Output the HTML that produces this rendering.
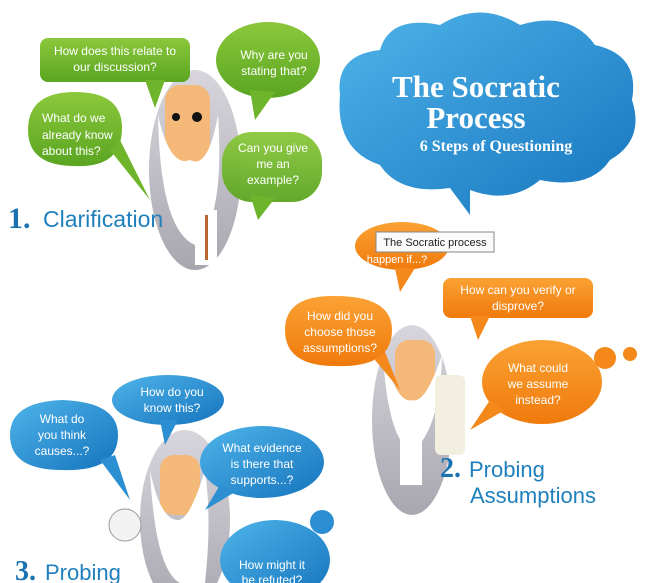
<!DOCTYPE html>
<html><head><style>
html,body{margin:0;padding:0;background:#fff;}
svg{display:block;}
text{font-family:"Liberation Sans",sans-serif;}
.t{font-family:"Liberation Serif",serif;}
</style></head><body>
<svg width="651" height="583" viewBox="0 0 651 583" xmlns="http://www.w3.org/2000/svg">
<defs>
<linearGradient id="g" x1="0" y1="0" x2="0" y2="1"><stop offset="0" stop-color="#8cc83c"/><stop offset="1" stop-color="#5aa521"/></linearGradient>
<linearGradient id="b" x1="0" y1="0" x2="1" y2="1"><stop offset="0" stop-color="#4fb4ea"/><stop offset="1" stop-color="#1574bd"/></linearGradient>
<linearGradient id="o" x1="0" y1="0" x2="0" y2="1"><stop offset="0" stop-color="#fba234"/><stop offset="1" stop-color="#f07a0c"/></linearGradient>
<linearGradient id="gr" x1="0" y1="0" x2="0" y2="1"><stop offset="0" stop-color="#d8d6dc"/><stop offset="1" stop-color="#a9a6b0"/></linearGradient>
</defs>
<ellipse cx="195" cy="170" rx="46" ry="100" fill="url(#gr)"/>
<ellipse cx="412" cy="420" rx="40" ry="95" fill="url(#gr)"/>
<ellipse cx="185" cy="520" rx="45" ry="90" fill="url(#gr)"/>
<rect x="165" y="85" width="45" height="85" rx="15" fill="#f4b978"/>
<path d="M158 115 Q160 230 195 245 Q225 220 218 115 Q208 170 190 160 Q170 168 158 115Z" fill="#fff"/>
<rect x="195" y="210" width="22" height="55" fill="#fff"/>
<rect x="205" y="215" width="3" height="45" fill="#b5672e"/>
<circle cx="176" cy="117" r="4" fill="#111"/><circle cx="197" cy="117" r="5" fill="#111"/>
<rect x="395" y="340" width="40" height="65" rx="14" fill="#f4b978"/>
<path d="M383 355 Q388 440 412 452 Q440 430 442 355 Q425 405 412 400 Q398 405 383 355Z" fill="#fff"/>
<rect x="400" y="420" width="22" height="65" fill="#fff"/>
<rect x="435" y="375" width="30" height="80" rx="6" fill="#f3efe0"/>
<rect x="160" y="455" width="40" height="60" rx="14" fill="#f4b978"/>
<path d="M150 470 Q155 570 180 583 L205 583 Q212 520 205 470 Q190 520 178 520 Q160 520 150 470Z" fill="#fff"/>
<circle cx="125" cy="525" r="16" fill="#f2f2f2" stroke="#999"/>
<rect x="40" y="38" width="150" height="44" rx="8" fill="url(#g)"/><path d="M145 80 L155 108 L165 80Z" fill="#6fb52b"/>
<text x="115" y="55" font-size="12" fill="#fff" text-anchor="middle">How does this relate to</text>
<text x="115" y="71" font-size="12" fill="#fff" text-anchor="middle">our discussion?</text>
<ellipse cx="268" cy="60" rx="52" ry="38" fill="url(#g)"/><path d="M250 90 L255 120 L275 92Z" fill="#6fb52b"/>
<text x="274" y="59" font-size="12" fill="#fff" text-anchor="middle">Why are you</text>
<text x="274" y="75" font-size="12" fill="#fff" text-anchor="middle">stating that?</text>
<path d="M28 130 Q28 92 75 92 Q122 92 122 128 Q122 168 75 166 Q28 166 28 130Z" fill="url(#g)"/><path d="M110 150 L150 200 L120 140Z" fill="#6fb52b"/>
<text x="42" y="122" font-size="12" fill="#fff">What do we</text>
<text x="42" y="139" font-size="12" fill="#fff">already know</text>
<text x="42" y="155" font-size="12" fill="#fff">about this?</text>
<rect x="222" y="132" width="100" height="70" rx="30" fill="url(#g)" opacity="0.95"/><path d="M250 195 L258 220 L275 198Z" fill="#6fb52b"/>
<text x="273" y="152" font-size="12" fill="#fff" text-anchor="middle">Can you give</text>
<text x="273" y="168" font-size="12" fill="#fff" text-anchor="middle">me an</text>
<text x="273" y="184" font-size="12" fill="#fff" text-anchor="middle">example?</text>
<text x="8" y="228" font-size="30" font-weight="bold" fill="#1b72b0" class="t">1.</text>
<text x="43" y="227" font-size="23" fill="#1f80bd">Clarification</text>
<path d="M340 95 Q335 55 380 50 Q390 15 440 25 Q480 0 520 25 Q570 10 595 45 Q640 55 632 100 Q645 140 610 160 Q590 190 540 180 Q510 205 470 190 L470 215 L450 188 Q400 195 380 165 Q335 150 340 95Z" fill="url(#b)"/>
<text x="476" y="97" font-size="31" font-weight="bold" fill="#fff" text-anchor="middle" class="t">The Socratic</text>
<text x="476" y="128" font-size="31" font-weight="bold" fill="#fff" text-anchor="middle" class="t">Process</text>
<text x="496" y="151" font-size="16" font-weight="bold" fill="#fff" text-anchor="middle" class="t">6 Steps of Questioning</text>
<ellipse cx="402" cy="246" rx="47" ry="24" fill="url(#o)"/><path d="M395 268 L400 292 L415 268Z" fill="#f4881a"/>
<text x="397" y="263" font-size="11" fill="#fff" text-anchor="middle">happen if...?</text>
<rect x="376" y="232" width="118" height="20" fill="#fafafa" stroke="#888"/>
<text x="435" y="246" font-size="11" fill="#222" text-anchor="middle">The Socratic process</text>
<rect x="443" y="278" width="150" height="40" rx="8" fill="url(#o)"/><path d="M470 316 L478 340 L490 316Z" fill="#f4881a"/>
<text x="518" y="294" font-size="12" fill="#fff" text-anchor="middle">How can you verify or</text>
<text x="518" y="310" font-size="12" fill="#fff" text-anchor="middle">disprove?</text>
<path d="M285 330 Q285 295 335 296 Q392 296 392 330 Q392 368 335 366 Q285 366 285 330Z" fill="url(#o)"/><path d="M375 360 L400 390 L385 352Z" fill="#f4881a"/>
<text x="340" y="320" font-size="12" fill="#fff" text-anchor="middle">How did you</text>
<text x="340" y="336" font-size="12" fill="#fff" text-anchor="middle">choose those</text>
<text x="340" y="352" font-size="12" fill="#fff" text-anchor="middle">assumptions?</text>
<ellipse cx="542" cy="382" rx="60" ry="42" fill="url(#o)"/><path d="M490 400 L470 430 L505 410Z" fill="#f4881a"/>
<circle cx="605" cy="358" r="11" fill="#f4881a"/><circle cx="630" cy="354" r="7" fill="#f4881a"/>
<text x="538" y="372" font-size="12" fill="#fff" text-anchor="middle">What could</text>
<text x="538" y="388" font-size="12" fill="#fff" text-anchor="middle">we assume</text>
<text x="538" y="404" font-size="12" fill="#fff" text-anchor="middle">instead?</text>
<text x="440" y="477" font-size="28" font-weight="bold" fill="#1b72b0" class="t">2.</text>
<text x="469" y="477" font-size="22" fill="#1f80bd">Probing</text>
<text x="470" y="503" font-size="22" fill="#1f80bd">Assumptions</text>
<ellipse cx="168" cy="400" rx="56" ry="25" fill="url(#b)"/><path d="M160 420 L165 445 L178 420Z" fill="#2c8fd2"/>
<text x="172" y="396" font-size="12" fill="#fff" text-anchor="middle">How do you</text>
<text x="172" y="412" font-size="12" fill="#fff" text-anchor="middle">know this?</text>
<path d="M10 435 Q10 402 62 400 Q118 402 118 435 Q118 472 62 470 Q10 470 10 435Z" fill="url(#b)"/><path d="M100 460 L130 500 L115 455Z" fill="#2c8fd2"/>
<text x="62" y="423" font-size="12" fill="#fff" text-anchor="middle">What do</text>
<text x="62" y="439" font-size="12" fill="#fff" text-anchor="middle">you think</text>
<text x="62" y="455" font-size="12" fill="#fff" text-anchor="middle">causes...?</text>
<ellipse cx="262" cy="462" rx="62" ry="36" fill="url(#b)"/><path d="M220 485 L205 510 L235 492Z" fill="#2c8fd2"/>
<text x="262" y="452" font-size="12" fill="#fff" text-anchor="middle">What evidence</text>
<text x="262" y="468" font-size="12" fill="#fff" text-anchor="middle">is there that</text>
<text x="262" y="484" font-size="12" fill="#fff" text-anchor="middle">supports...?</text>
<ellipse cx="275" cy="560" rx="55" ry="40" fill="url(#b)"/><circle cx="322" cy="522" r="12" fill="#2c8fd2"/>
<text x="272" y="569" font-size="12" fill="#fff" text-anchor="middle">How might it</text>
<text x="272" y="584" font-size="12" fill="#fff" text-anchor="middle">be refuted?</text>
<text x="15" y="580" font-size="28" font-weight="bold" fill="#1b72b0" class="t">3.</text>
<text x="45" y="580" font-size="22" fill="#1f80bd">Probing</text>
</svg>
</body></html>
